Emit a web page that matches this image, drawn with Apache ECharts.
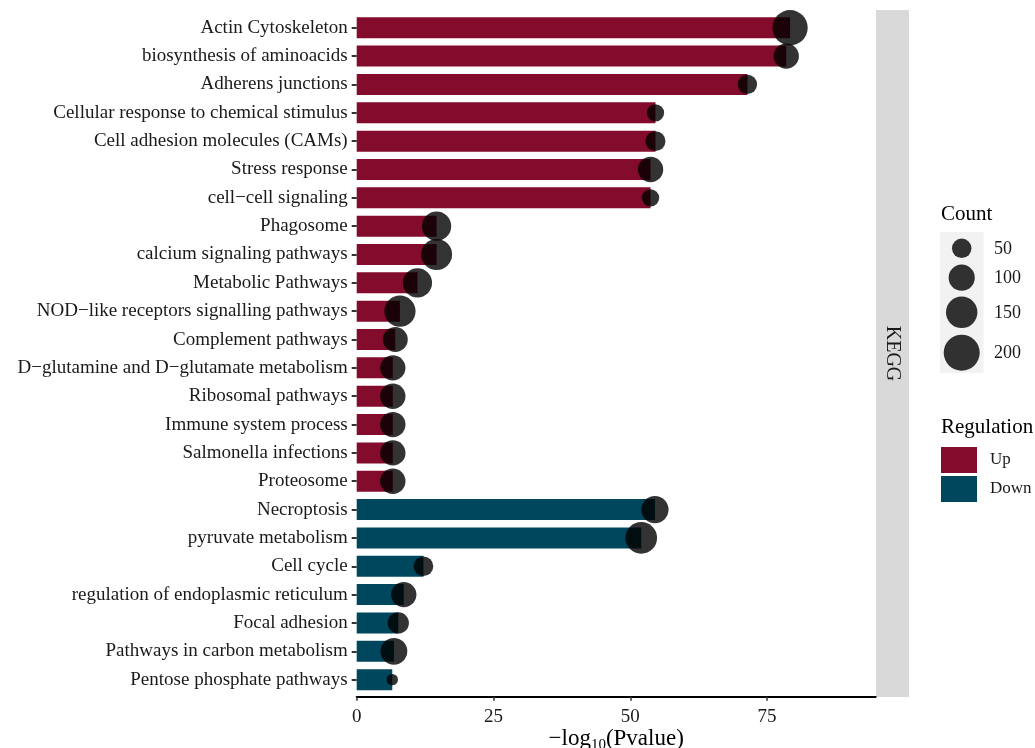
<!DOCTYPE html>
<html>
<head>
<meta charset="utf-8">
<script src="https://cdn.jsdelivr.net/npm/echarts@6/dist/echarts.min.js"></script>
<style>
html,body{margin:0;padding:0;background:#fff;}
#chart{width:1035px;height:748px;}
</style>
</head>
<body>
<div id="chart"></div>
<script>
var categories = [
  'Actin Cytoskeleton',
  'biosynthesis of aminoacids',
  'Adherens junctions',
  'Cellular response to chemical stimulus',
  'Cell adhesion molecules (CAMs)',
  'Stress response',
  'cell\u2212cell signaling',
  'Phagosome',
  'calcium signaling pathways',
  'Metabolic Pathways',
  'NOD\u2212like receptors signalling pathways',
  'Complement pathways',
  'D\u2212glutamine and D\u2212glutamate metabolism',
  'Ribosomal pathways',
  'Immune system process',
  'Salmonella infections',
  'Proteosome',
  'Necroptosis',
  'pyruvate metabolism',
  'Cell cycle',
  'regulation of endoplasmic reticulum',
  'Focal adhesion',
  'Pathways in carbon metabolism',
  'Pentose phosphate pathways'
];
var logP = [79.2, 78.5, 71.4, 54.6, 54.6, 53.7, 53.7, 14.6, 14.6, 11.1, 7.9, 7.05, 6.6, 6.6, 6.6, 6.6, 6.6,
            54.5, 52.0, 12.2, 8.6, 7.6, 6.8, 6.5];
var counts = [192, 93, 49, 37, 53, 93, 37, 128, 145, 128, 148, 90, 93, 93, 93, 93, 93,
              110, 152, 51, 93, 62, 105, 9];
var regulation = ['Up','Up','Up','Up','Up','Up','Up','Up','Up','Up','Up','Up','Up','Up','Up','Up','Up',
                  'Down','Down','Down','Down','Down','Down','Down'];
var regLevels = ['Up', 'Down'];
var xTicks = [0, 25, 50, 75];
var countBreaks = [50, 100, 150, 200];

var regColors = {Up: '#830b2c', Down: '#00465d'};
var serif = '"Liberation Serif", "DejaVu Serif", serif';
function dia(c) { return Math.sqrt(75 + 6.1 * c); }

var barSeries = regLevels.map(function (lev) {
  return {
    name: lev,
    type: 'bar',
    stack: 'reg',
    barWidth: 21,
    itemStyle: {color: regColors[lev]},
    data: logP.map(function (v, i) { return regulation[i] === lev ? v : '-'; }),
    z: 2
  };
});

var scatterSeries = {
  type: 'scatter',
  data: logP.map(function (v, i) { return [v, i, counts[i]]; }),
  symbolSize: function (d) { return dia(d[2]); },
  itemStyle: {color: '#000', opacity: 0.8},
  z: 3,
  silent: true
};

// count legend graphics
var legY = [248.3, 277.7, 312.3, 352.7];
var graphics = [
  {type: 'rect', shape: {x: 876, y: 10, width: 33, height: 687}, style: {fill: '#d9d9d9'}},
  {type: 'text', x: 892.5, y: 353.5, rotation: -Math.PI / 2,
   style: {text: 'KEGG', font: '20px ' + serif, fill: '#1a1a1a', textAlign: 'center', textVerticalAlign: 'middle'}},
  {type: 'text', x: 941, y: 214,
   style: {text: 'Count', font: '21px ' + serif, fill: '#000', textAlign: 'left', textVerticalAlign: 'middle'}},
  {type: 'rect', shape: {x: 940, y: 232, width: 43.5, height: 141}, style: {fill: '#f2f2f2'}},
  {type: 'text', x: 941, y: 427,
   style: {text: 'Regulation', font: '21px ' + serif, fill: '#000', textAlign: 'left', textVerticalAlign: 'middle'}}
];
countBreaks.forEach(function (c, k) {
  graphics.push({type: 'circle', shape: {cx: 961.7, cy: legY[k], r: dia(c) / 2}, style: {fill: '#000', opacity: 0.8}});
  graphics.push({type: 'text', x: 994, y: legY[k] + 0.5,
    style: {text: String(c), font: '18px ' + serif, fill: '#1a1a1a', textAlign: 'left', textVerticalAlign: 'middle'}});
});

var chart = echarts.init(document.getElementById('chart'), null, {renderer: 'canvas'});
chart.setOption({
  animation: false,
  backgroundColor: '#fff',
  grid: {left: 356.7, top: 13.6, width: 519, height: 680.2, containLabel: false, outerBoundsMode: 'none'},
  xAxis: {
    type: 'value', min: 0, max: 94.85, interval: 25,
    offset: 3,
    splitLine: {show: false},
    axisLine: {show: true, lineStyle: {color: '#000', width: 2}},
    axisTick: {show: true, length: 4, lineStyle: {color: '#333', width: 1.5}, customValues: xTicks},
    axisLabel: {fontFamily: serif, fontSize: 19, color: '#1a1a1a', margin: 11, customValues: xTicks},
    name: '\u2212log{sub|10}(Pvalue)',
    nameLocation: 'middle',
    nameGap: 28,
    nameMoveOverlap: false,
    nameTextStyle: {fontFamily: serif, fontSize: 23, color: '#000', lineHeight: 28,
      rich: {sub: {fontFamily: serif, fontSize: 15, color: '#000', verticalAlign: 'bottom', lineHeight: 22, padding: [10, 0, 0, 0]}}}
  },
  yAxis: {
    type: 'category', inverse: true, data: categories,
    axisLine: {show: false},
    axisTick: {show: true, length: 5, alignWithLabel: true, lineStyle: {color: '#333', width: 2}},
    axisLabel: {fontFamily: serif, fontSize: 19, color: '#1a1a1a', margin: 9}
  },
  legend: {
    data: regLevels,
    orient: 'vertical',
    left: 941, top: 447,
    padding: 0,
    itemWidth: 36, itemHeight: 26, itemGap: 3,
    icon: 'rect',
    selectedMode: false,
    textStyle: {fontFamily: serif, fontSize: 17, color: '#1a1a1a', padding: [0, 0, 0, 8]}
  },
  graphic: graphics,
  series: barSeries.concat([scatterSeries])
});
</script>
</body>
</html>
